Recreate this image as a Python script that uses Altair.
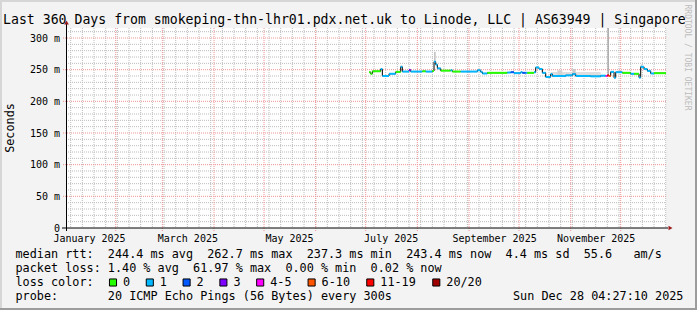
import altair as alt
import pandas as pd

# ---------------- data ----------------
# median RTT (ms) as steps: each value holds from its start date to the next start date
seg_start = [
    "2025-07-03", "2025-07-04", "2025-07-05", "2025-07-10", "2025-07-11", "2025-07-15",
    "2025-07-19", "2025-07-22", "2025-07-23", "2025-07-27", "2025-07-28", "2025-08-04",
    "2025-08-06", "2025-08-10", "2025-08-11", "2025-08-12", "2025-08-13", "2025-08-15",
    "2025-08-21", "2025-08-22", "2025-08-27", "2025-09-06", "2025-09-08", "2025-09-09",
    "2025-09-12", "2025-09-24", "2025-09-26", "2025-09-28", "2025-10-02", "2025-10-03",
    "2025-10-05", "2025-10-06", "2025-10-10", "2025-10-11", "2025-10-13", "2025-10-15",
    "2025-10-17", "2025-10-20", "2025-10-21", "2025-10-29", "2025-11-02", "2025-11-04",
    "2025-11-13", "2025-11-19", "2025-11-22", "2025-11-23", "2025-11-24", "2025-11-25",
    "2025-11-27", "2025-11-28", "2025-12-02", "2025-12-07", "2025-12-09", "2025-12-12",
    "2025-12-13", "2025-12-15", "2025-12-17", "2025-12-19", "2025-12-21",
]
seg_ms = [
    246.0, 243.5, 247.5, 251.0, 240.0, 243.5,
    246.5, 254.5, 247.0, 249.5, 247.0, 247.5,
    247.0, 248.0, 262.7, 258.0, 252.0, 248.5,
    249.0, 247.0, 247.0, 249.0, 246.5, 244.0,
    245.0, 245.5, 246.0, 244.5, 246.0, 245.0,
    245.0, 245.0, 246.0, 253.5, 251.0, 245.0,
    238.5, 243.0, 240.0, 241.0, 243.0, 240.0,
    239.5, 240.5, 240.0, 241.0, 240.0, 246.5,
    237.3, 246.0, 245.0, 243.5, 243.5, 237.5,
    254.5, 251.0, 248.0, 244.0, 244.5,
]
seg_loss = [
    "0", "0", "0", "1", "1", "1",
    "0", "1", "1", "3", "1", "0",
    "1", "0", "1", "1", "1", "0",
    "1", "0", "1", "1", "1", "1",
    "0", "1", "2", "1", "1", "2",
    "1", "0", "1", "1", "1", "1",
    "1", "1", "1", "1", "1", "1",
    "1", "1", "4-5", "11-19", "6-10", "1",
    "1", "1", "0", "1", "0", "1",
    "1", "1", "1", "1", "0",
]
series_end = "2025-12-28T04:27:10"

# smoke (spread of the individual pings around the median)
smoke_start = ["2025-07-22", "2025-08-11", "2025-10-20", "2025-10-24", "2025-11-02", "2025-11-23", "2025-12-13"]
smoke_end = ["2025-07-23", "2025-08-12", "2025-11-19", "2025-10-27", "2025-11-04", "2025-11-24", "2025-12-14"]
smoke_low = [254.5, 262.7, 240.0, 240.0, 243.0, 241.0, 254.5]
smoke_high = [257.0, 278.0, 246.5, 249.0, 251.0, 320.0, 258.0]
smoke_shade = ["#e0e0e0", "#c4c4c4", "#dedede", "#d2d2d2", "#cacaca", "#b0b0b0", "#cccccc"]

loss_labels = ["0", "1", "2", "3", "4-5", "6-10", "11-19", "20/20"]
loss_colors = ["#26ff00", "#00b8ff", "#0059ff", "#7e00ff", "#ff00ff", "#ff5500", "#ff0000", "#a10000"]

y_ticks = [0, 50, 100, 150, 200, 250, 300]
x_label_months = [1, 3, 5, 7, 9, 11]

median_avg, median_max, median_min, median_now, median_sd, am_s = 244.4, 262.7, 237.3, 243.4, 4.4, 55.6
loss_avg, loss_max, loss_min, loss_now = 1.40, 61.97, 0.00, 0.02
probe_text = "20 ICMP Echo Pings (56 Bytes) every 300s"
stamp_text = "Sun Dec 28 04:27:10 2025"
title_text = "Last 360 Days from smokeping-thn-lhr01.pdx.net.uk to Linode, LLC | AS63949 | Singapore"

# ---------------- tables ----------------
starts = pd.to_datetime(seg_start)
ends = list(starts[1:]) + [pd.Timestamp(series_end)]
segs = pd.DataFrame({"date": starts, "date_end": ends, "ms": seg_ms, "loss": seg_loss})
line_df = pd.DataFrame({
    "date": list(starts) + [pd.Timestamp(series_end)],
    "ms": seg_ms + [seg_ms[-1]],
})
smoke = pd.DataFrame({
    "date": pd.to_datetime(smoke_start), "date_end": pd.to_datetime(smoke_end),
    "ms": smoke_low, "ms_high": smoke_high, "shade": smoke_shade,
})
weeks = pd.DataFrame({"date": pd.date_range("2025-01-05", "2025-12-28", freq="7D")})
months = pd.DataFrame({"date": pd.date_range("2025-02-01", "2025-12-01", freq="MS")})
minor_y = pd.DataFrame({"ms": [v for v in range(10, 320, 10) if v % 50 != 0]})
major_y = pd.DataFrame({"ms": [v for v in y_ticks if v > 0]})

MONO = "DejaVu Sans Mono"
W, H = 600, 200
x_dom = [alt.DateTime(year=2025, month=1, date=2, hours=4, minutes=27, seconds=10),
         alt.DateTime(year=2025, month=12, date=28, hours=4, minutes=27, seconds=10)]

xs = alt.Scale(domain=x_dom)
ys = alt.Scale(domain=[0, 315.8], nice=False, zero=True, clamp=True)

x_axis = alt.Axis(values=[alt.DateTime(year=2025, month=m, date=16) for m in x_label_months],
                  format="%B %Y", labelFont=MONO, labelFontSize=10, labelColor="#000000",
                  labelBaseline="top", labelPadding=5, ticks=False, tickSize=0,
                  labelOverlap=False, labelFlush=False,
                  domain=False, grid=False, title=None, labelAlign="center")
y_axis = alt.Axis(values=y_ticks, labelExpr="datum.value == 0 ? '0' : datum.value + ' m'",
                  labelFont=MONO, labelFontSize=10, labelColor="#000000", labelPadding=6.5,
                  labelOverlap=False, labelFlush=False, tickCount=7,
                  labelBaseline="middle", ticks=False, tickSize=0, domain=False, grid=False, title=None)

XE = alt.X("date:T", scale=xs, axis=x_axis)
YE = alt.Y("ms:Q", scale=ys, axis=y_axis)

def nb(s):
    return s.replace(" ", "\u00a0")

def txt(s, x, y, size=11.8, align="left", baseline="middle", angle=0, color="#000000"):
    return alt.Chart(pd.DataFrame({"t": [nb(s)]})).mark_text(
        align=align, baseline=baseline, font=MONO, fontSize=size, angle=angle, color=color
    ).encode(x=alt.value(x), y=alt.value(y), text="t:N")

# grid
g_week = alt.Chart(weeks).mark_rule(color="#bcbcbc", strokeWidth=1, strokeDash=[1, 1]).encode(
    x=XE, y=alt.value(0), y2=alt.value(H))
g_minor_y = alt.Chart(minor_y).mark_rule(color="#bcbcbc", strokeWidth=1, strokeDash=[1, 1]).encode(
    y=YE, x=alt.value(0), x2=alt.value(W))
g_month = alt.Chart(months).mark_rule(color="#f29494", strokeWidth=1, strokeDash=[1, 1]).encode(
    x=XE, y=alt.value(0), y2=alt.value(H + 3))
g_major_y = alt.Chart(major_y).mark_rule(color="#f29494", strokeWidth=1, strokeDash=[1, 1]).encode(
    y=YE, x=alt.value(-3), x2=alt.value(W))

# smoke, median line, loss colours
smoke_l = alt.Chart(smoke).mark_rect().encode(
    x=XE, x2="date_end:T", y=YE, y2="ms_high:Q",
    color=alt.Color("shade:N", scale=None))
median_line = alt.Chart(line_df).mark_line(interpolate="step-after", color="#000000", strokeWidth=1).encode(
    x=XE, y=YE)
loss_segs = alt.Chart(segs).mark_rule(strokeWidth=2, strokeCap="butt").encode(
    x=XE, x2="date_end:T", y=YE,
    color=alt.Color("loss:N", scale=alt.Scale(domain=loss_labels, range=loss_colors), legend=None))

# axes lines and arrows
ARROW = "#9b1b1b"
x_line = alt.Chart(pd.DataFrame({"a": [0]})).mark_rule(color="#000000", strokeWidth=1).encode(
    x=alt.value(-4), x2=alt.value(W + 2), y=alt.value(H))
y_line = alt.Chart(pd.DataFrame({"a": [0]})).mark_rule(color="#000000", strokeWidth=1).encode(
    x=alt.value(0.5), y=alt.value(H + 3), y2=alt.value(-4))
arrow_r = alt.Chart(pd.DataFrame({"a": [0]})).mark_point(shape="triangle-right", filled=True, size=22,
                                                        color=ARROW, opacity=1).encode(
    x=alt.value(W + 4.5), y=alt.value(H))
arrow_u = alt.Chart(pd.DataFrame({"a": [0]})).mark_point(shape="triangle-up", filled=True, size=22,
                                                        color=ARROW, opacity=1).encode(
    x=alt.value(0.5), y=alt.value(-5.5))

# frame shading
frame = [
    alt.Chart(pd.DataFrame({"a": [0]})).mark_rule(color="#d6d6d6", strokeWidth=2).encode(
        x=alt.value(-66), x2=alt.value(631), y=alt.value(-27)),
    alt.Chart(pd.DataFrame({"a": [0]})).mark_rule(color="#d6d6d6", strokeWidth=2).encode(
        x=alt.value(-65), y=alt.value(-28), y2=alt.value(282)),
    alt.Chart(pd.DataFrame({"a": [0]})).mark_rule(color="#9c9c9c", strokeWidth=2).encode(
        x=alt.value(-66), x2=alt.value(631), y=alt.value(281)),
    alt.Chart(pd.DataFrame({"a": [0]})).mark_rule(color="#9c9c9c", strokeWidth=2).encode(
        x=alt.value(630), y=alt.value(-28), y2=alt.value(282)),
]

# texts
row1 = (f"median rtt:  {median_avg:.1f} ms avg  {median_max:.1f} ms max  {median_min:.1f} ms min  "
        f"{median_now:.1f} ms now  {median_sd:.1f} ms sd  {am_s:.1f}   am/s")
row2 = f"packet loss: {loss_avg:.2f} % avg  {loss_max:.2f} % max  {loss_min:.2f} % min  {loss_now:.2f} % now"
row3 = "loss color:"
row4 = f"probe:       {probe_text}"

LX = 15.5 - 66
texts = [
    txt(title_text, -63, -4, size=13.2, baseline="alphabetic"),
    txt("Seconds", -56.5, H / 2, size=11.8, align="center", angle=270),
    txt("RRDTOOL / TOBI OETIKER", 621, 29.5, size=8, align="center", angle=90, color="#bdbdbd"),
    txt(row1, LX, 226),
    txt(row2, LX, 240),
    txt(row3, LX, 254),
    txt(row4, LX, 268),
    txt(stamp_text, 513 - 66, 268),
]

boxes = []
left = 109.0
for lab, col in zip(loss_labels, loss_colors):
    boxes.append(alt.Chart(pd.DataFrame({"a": [0]})).mark_point(
        shape="square", filled=True, size=50, color=col, stroke="#000000", strokeWidth=1, opacity=1
    ).encode(x=alt.value(left - 66 + 4), y=alt.value(254.5)))
    boxes.append(txt(lab, left - 66 + 14, 254))
    left += 29.5 + 7.3 * len(lab)

chart = alt.layer(
    g_week, g_minor_y, g_month, g_major_y,
    smoke_l, median_line, loss_segs,
    x_line, y_line, arrow_r, arrow_u,
    *frame, *texts, *boxes,
).properties(
    width=W, height=H,
    autosize=alt.AutoSizeParams(type="none"),
    padding={"left": 66, "top": 28, "right": 31, "bottom": 82},
    background="#f3f3f3",
).configure_view(fill="#ffffff", stroke=None)

chart.save("out.html", embed_options={"renderer": "svg", "actions": False})
